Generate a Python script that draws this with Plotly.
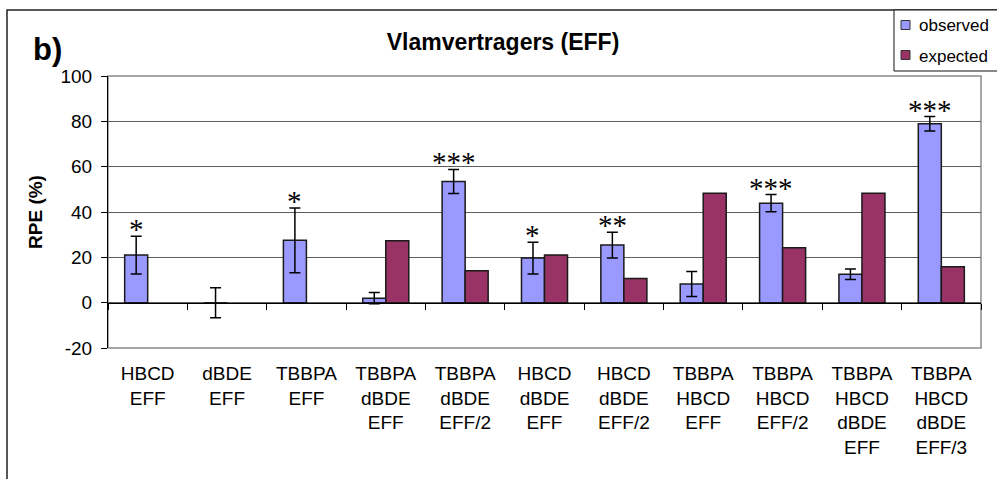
import plotly.graph_objects as go

# --- data -------------------------------------------------------------
categories = [
    "HBCD<br>EFF",
    "dBDE<br>EFF",
    "TBBPA<br>EFF",
    "TBBPA<br>dBDE<br>EFF",
    "TBBPA<br>dBDE<br>EFF/2",
    "HBCD<br>dBDE<br>EFF",
    "HBCD<br>dBDE<br>EFF/2",
    "TBBPA<br>HBCD<br>EFF",
    "TBBPA<br>HBCD<br>EFF/2",
    "TBBPA<br>HBCD<br>dBDE<br>EFF",
    "TBBPA<br>HBCD<br>dBDE<br>EFF/3",
]
observed = [21.0, 0.0, 27.5, 2.0, 53.5, 19.7, 25.4, 8.2, 43.9, 12.5, 78.9]
observed_err = [8.3, 6.6, 14.3, 2.5, 5.3, 7.0, 5.7, 5.5, 3.8, 2.3, 3.2]
expected = [None, None, None, 27.3, 14.1, 21.0, 10.7, 48.3, 24.2, 48.3, 15.9]
significance = ["*", "", "*", "", "***", "*", "**", "", "***", "", "***"]

y_ticks = [-20, 0, 20, 40, 60, 80, 100]
y_tick_text = ["-20", "0", "20", "40", "60", "80", "100"]

# --- page geometry (pixels) -------------------------------------------
W, H = 997, 479
L, R, T, B = 108, 16, 76, 131
PW, PH = W - L - R, H - T - B
BARGAP = 0.42

FONT = "Liberation Sans, Arial, sans-serif"


def px_x(x):
    return (x - L) / PW


def px_y(y):
    return (H - B - y) / PH


fig = go.Figure()

fig.add_trace(go.Bar(
    name="observed", x=categories, y=observed,
    marker=dict(color="#9999FF", line=dict(color="#1a1a1a", width=1.5)),
    error_y=dict(type="data", array=observed_err, color="black",
                 thickness=1.5, width=5.5),
    showlegend=False,
))
fig.add_trace(go.Bar(
    name="expected", x=categories, y=expected,
    marker=dict(color="#993366", line=dict(color="#1a1a1a", width=1.5)),
    showlegend=False,
))
# carrier trace for the category axis drawn through y = 0
fig.add_trace(go.Scatter(
    x=categories, y=[None] * len(categories), xaxis="x2",
    mode="markers", showlegend=False, hoverinfo="skip",
))

# significance stars above the observed bars
obs_offset = -(1 - BARGAP) / 4
for i, (v, e, s) in enumerate(zip(observed, observed_err, significance)):
    if s:
        fig.add_annotation(
            x=i + obs_offset, y=v + e, text=s, showarrow=False,
            xref="x", yref="y", yanchor="bottom", yshift=-11,
            font=dict(family="Liberation Serif, Times New Roman, serif",
                      size=29, color="black"),
        )

shapes = []
# outer chart frame
shapes.append(dict(type="rect", xref="paper", yref="paper",
                   x0=px_x(7), x1=px_x(W + 10), y0=px_y(10), y1=px_y(H + 10),
                   line=dict(color="#222222", width=1.5), layer="below"))
# plot area border
shapes.append(dict(type="rect", xref="paper", yref="paper",
                   x0=0, x1=1, y0=0, y1=1,
                   line=dict(color="#8a8a8a", width=1.5), layer="below"))
# legend box and swatches
shapes.append(dict(type="rect", xref="paper", yref="paper",
                   x0=px_x(894), x1=px_x(W + 10), y0=px_y(10), y1=px_y(71),
                   line=dict(color="#111111", width=1), fillcolor="white"))
for yc, col in ((25, "#9999FF"), (55, "#993366")):
    shapes.append(dict(type="rect", xref="paper", yref="paper",
                       x0=px_x(901), x1=px_x(910), y0=px_y(yc - 4.5), y1=px_y(yc + 4.5),
                       line=dict(color="#333333", width=1), fillcolor=col))

annotations = [
    dict(text="observed", x=px_x(917), y=px_y(25), xanchor="left", yanchor="middle"),
    dict(text="expected", x=px_x(917), y=px_y(56), xanchor="left", yanchor="middle"),
]
for a in annotations:
    fig.add_annotation(xref="paper", yref="paper", showarrow=False,
                       font=dict(family=FONT, size=17, color="black"), **a)

fig.add_annotation(xref="paper", yref="paper", showarrow=False,
                   text="<b>b)</b>", x=px_x(31), y=px_y(50),
                   xanchor="left", yanchor="middle",
                   font=dict(family=FONT, size=31, color="black"))

fig.update_layout(
    width=W, height=H,
    margin=dict(l=L, r=R, t=T, b=B, pad=0),
    paper_bgcolor="white", plot_bgcolor="white",
    barmode="group", bargap=BARGAP, bargroupgap=0,
    title=dict(text="<b>Vlamvertragers (EFF)</b>", x=503 / W, y=1 - 42 / H,
               xanchor="center", yanchor="middle",
               font=dict(family=FONT, size=23, color="black")),
    shapes=shapes,
    xaxis=dict(
        type="category", categoryorder="array", categoryarray=categories,
        range=[-0.5, len(categories) - 0.5],
        showline=False, showgrid=False, zeroline=False, ticks="",
        tickfont=dict(family=FONT, size=19, color="black"),
        ticklabelstandoff=12,
    ),
    xaxis2=dict(
        type="category", categoryorder="array", categoryarray=categories,
        range=[-0.5, len(categories) - 0.5],
        overlaying="x", anchor="free",
        position=(0 - y_ticks[0]) / (y_ticks[-1] - y_ticks[0]),
        showline=True, linecolor="black", linewidth=1,
        ticks="outside", tickson="boundaries", ticklen=6,
        tickcolor="black", tickwidth=1,
        showticklabels=False, showgrid=False, zeroline=False,
    ),
    yaxis=dict(
        range=[y_ticks[0], y_ticks[-1]], tickvals=y_ticks, ticktext=y_tick_text,
        showline=True, linecolor="black", linewidth=1,
        ticks="outside", ticklen=6, tickcolor="black", tickwidth=1,
        showgrid=True, gridcolor="#5e5e5e", gridwidth=1,
        zeroline=False,
        tickfont=dict(family=FONT, size=19, color="black"),
        ticklabelstandoff=5,
        title=dict(text="<b>RPE (%)</b>", standoff=12,
                   font=dict(family=FONT, size=19, color="black")),
    ),
)

fig.write_html("out.html")
